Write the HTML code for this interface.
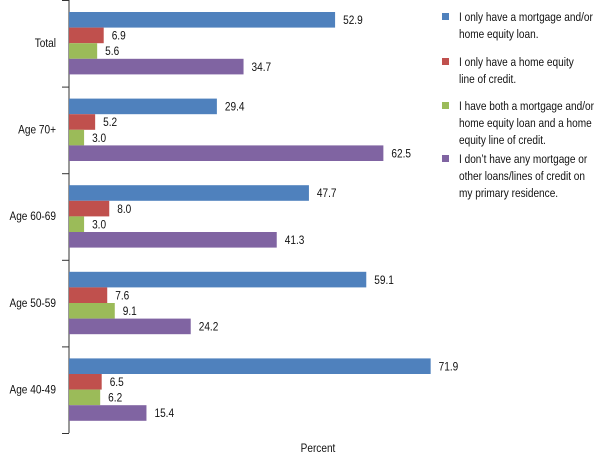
<!DOCTYPE html>
<html><head><meta charset="utf-8"><style>
body{margin:0;background:#fff;width:600px;height:457px;overflow:hidden}
svg{display:block;font-family:"Liberation Sans",Arial,sans-serif;font-size:12px;fill:#111}
</style></head><body>
<svg id="chart" width="600" height="457" viewBox="0 0 600 457"></svg>
<script>
const categories = ["Total","Age 70+","Age 60-69","Age 50-59","Age 40-49"];
const seriesMortgage = [52.9,29.4,47.7,59.1,71.9];
const seriesHeloc = [6.9,5.2,8.0,7.6,6.5];
const seriesBoth = [5.6,3.0,3.0,9.1,6.2];
const seriesNone = [34.7,62.5,41.3,24.2,15.4];
const seriesNames = ["I only have a mortgage and/or|home equity loan.","I only have a home equity|line of credit.","I have both a mortgage and/or|home equity loan and a home|equity line of credit.","I don\u2019t have any mortgage or|other loans/lines of credit on|my primary residence."];
const colors = ["#4f81bd","#c0504d","#9bbb59","#8064a2"];
const series=[seriesMortgage,seriesHeloc,seriesBoth,seriesNone];
const NS="http://www.w3.org/2000/svg";
const svg=document.getElementById('chart');
const X0=69, SCALE=5.03, GH=86.6, BH=15.6, BTOP=12, SX=0.84;
const x=v=>X0+v*SCALE;
const mk=(t,a)=>{const e=document.createElementNS(NS,t);for(const k in a)e.setAttribute(k,a[k]);svg.appendChild(e);return e;};
const sq=px=>`translate(${px} 0) scale(${SX} 1) translate(${-px} 0)`;
const axis=mk('line',{x1:X0,y1:0,x2:X0,y2:433,stroke:'#333','stroke-width':1});


for(let i=0;i<=categories.length;i++){
  const t=mk('line',{x1:X0-7,x2:X0,y1:i*GH+0.5,y2:i*GH+0.5,stroke:'#333'});
  
  
}
categories.forEach((c,i)=>{
  const gy=i*GH;
  const l=mk('text',{x:56,y:gy+47,'text-anchor':'end',transform:sq(56)});
  l.textContent=c;
  
  
  series.forEach((s,j)=>{
    const y=gy+BTOP+j*BH;
    const r=mk('rect',{x:X0,y:y,width:x(s[i])-X0,height:BH,fill:colors[j]});
    
    
    const tx=x(s[i])+8;
    const v=mk('text',{x:tx,y:y+12,transform:sq(tx)});
    v.textContent=s[i].toFixed(1);
    
    
  });
});
const legendY=[13,58,102,155];
seriesNames.forEach((n,j)=>{
  const r=mk('rect',{x:442,y:legendY[j],width:7,height:7,fill:colors[j]});
  
  
  n.split('|').forEach((ln,k)=>{
    const t=mk('text',{x:459,y:legendY[j]+8+k*17,transform:sq(459)});
    t.textContent=ln;
    
    
  });
});
const xt=mk('text',{x:318,y:452,'text-anchor':'middle',transform:sq(318)});
xt.textContent='Percent';


</script>
</body></html>
